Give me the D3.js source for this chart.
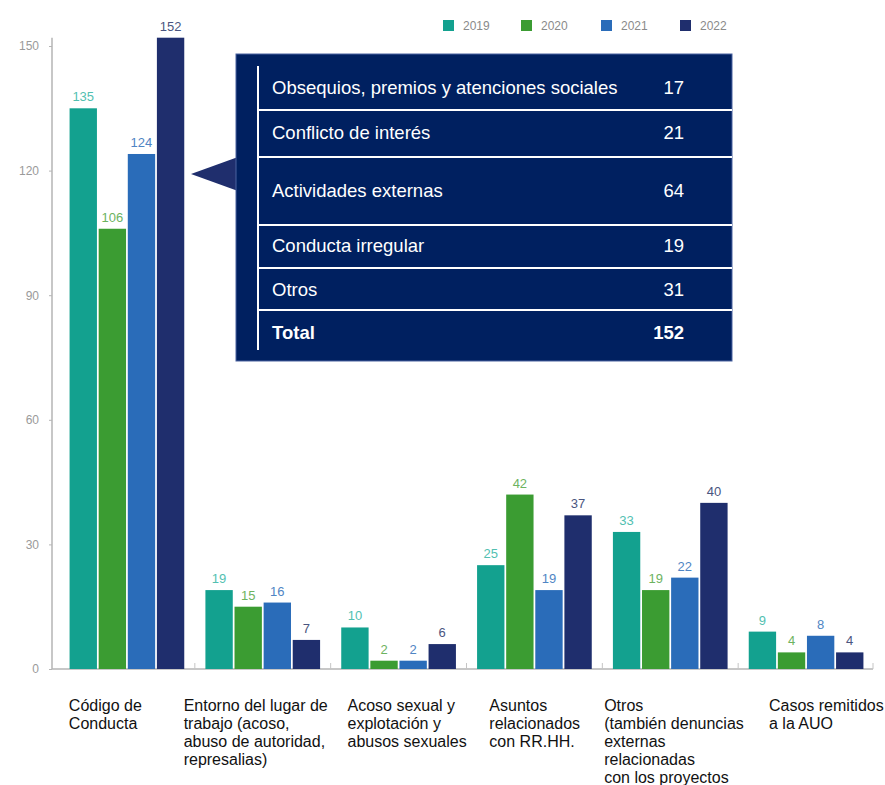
<!DOCTYPE html>
<html>
<head>
<meta charset="utf-8">
<script src="https://cdn.jsdelivr.net/npm/d3@7"></script>
<style>
  body { margin: 0; background: #fff; }
  svg { display: block; font-family: "Liberation Sans", Arial, sans-serif; }
</style>
</head>
<body>
<svg id="chart"></svg>
<script>
const categories = ["codigo", "entorno", "acoso", "asuntos", "otros", "casos"];
const categoryLabels = [
    ["Código de", "Conducta"],
    ["Entorno del lugar de", "trabajo (acoso,", "abuso de autoridad,", "represalias)"],
    ["Acoso sexual y", "explotación y", "abusos sexuales"],
    ["Asuntos", "relacionados", "con RR.HH."],
    ["Otros", "(también denuncias", "externas", "relacionadas", "con los proyectos"],
    ["Casos remitidos", "a la AUO"]
];
const years = ["2019", "2020", "2021", "2022"];
const values2019 = [135, 19, 10, 25, 33, 9];
const values2020 = [106, 15, 2, 42, 19, 4];
const values2021 = [124, 16, 2, 19, 22, 8];
const values2022 = [152, 7, 6, 37, 40, 4];
const yTicks = [0, 30, 60, 90, 120, 150];

const tableRows = ["Obsequios, premios y atenciones sociales", "Conflicto de interés",
    "Actividades externas", "Conducta irregular", "Otros", "Total"];
const tableValues = [17, 21, 64, 19, 31, 152];

const colors = ["#13a18f", "#3b9c32", "#2a6cb9", "#1f2e6d"];
const labelColors = ["#52bfb1", "#6db35f", "#4f85c4", "#4a5580"];

const width = 885, height = 785;
const svg = d3.select("#chart").attr("width", width).attr("height", height);

const series = [values2019, values2020, values2021, values2022];
const data = categories.map((c, i) => ({
    cat: c,
    vals: years.map((y, j) => ({year: y, idx: j, value: series[j][i]}))
}));

const x0 = d3.scaleBand().domain(categories).range([59, 874])
    .paddingInner(0.13).paddingOuter(0.065);
const x1 = d3.scaleBand().domain(years).range([0, x0.bandwidth()]).padding(0.06);
const y = d3.scaleLinear().domain([0, 150]).range([669, 46]);

// y axis
const yAxis = svg.append("g")
    .attr("transform", "translate(52,0)")
    .call(d3.axisLeft(y).tickValues(yTicks).tickSize(3).tickPadding(10));
yAxis.select(".domain").attr("stroke", "#b5b5b5").attr("stroke-width", 1.5)
    .attr("d", `M0,${y(0)}V${y(152)}`);
yAxis.selectAll(".tick line").attr("stroke", "#b5b5b5");
yAxis.selectAll(".tick text").attr("fill", "#9a9a9a").attr("font-size", 12);

// x axis
svg.append("line")
    .attr("x1", 52).attr("x2", 873)
    .attr("y1", y(0)).attr("y2", y(0))
    .attr("stroke", "#b5b5b5").attr("stroke-width", 1.5);
svg.selectAll(".sep")
    .data(categories.slice(1))
    .join("line")
    .attr("x1", d => x0(d) - x0.step() * 0.065)
    .attr("x2", d => x0(d) - x0.step() * 0.065)
    .attr("y1", y(0) - 6).attr("y2", y(0))
    .attr("stroke", "#c5c5c5");
svg.append("line")
    .attr("x1", 873).attr("x2", 873).attr("y1", y(0) - 6).attr("y2", y(0))
    .attr("stroke", "#c5c5c5");

// bars
const groups = svg.selectAll(".grp")
    .data(data)
    .join("g")
    .attr("transform", d => `translate(${x0(d.cat)},0)`);

groups.selectAll("rect")
    .data(d => d.vals)
    .join("rect")
    .attr("x", d => x1(d.year))
    .attr("y", d => y(d.value))
    .attr("width", x1.bandwidth())
    .attr("height", d => y(0) - y(d.value))
    .attr("fill", d => colors[d.idx]);

groups.selectAll("text")
    .data(d => d.vals)
    .join("text")
    .attr("x", d => x1(d.year) + x1.bandwidth() / 2)
    .attr("y", d => y(d.value) - 7)
    .attr("text-anchor", "middle")
    .attr("font-size", 13)
    .attr("fill", d => labelColors[d.idx])
    .text(d => d.value);

// category labels
const catText = svg.selectAll(".cat")
    .data(categories)
    .join("text")
    .attr("x", (d, i) => x0(d) + [1, -20, 7, 11, -10, 21][i] + [0, 0, 1, 3, 3, 1][i])
    .attr("y", 711)
    .attr("font-size", 16)
    .attr("fill", "#111");
catText.selectAll("tspan")
    .data((d, i) => categoryLabels[i])
    .join("tspan")
    .attr("x", function() { return this.parentNode.getAttribute("x"); })
    .attr("dy", (d, i) => i === 0 ? 0 : 18)
    .text(d => d);

// legend
const legend = svg.append("g").attr("transform", "translate(443,26)");
const legendX = [0, 78, 158, 237];
years.forEach((yr, i) => {
    legend.append("rect")
        .attr("x", legendX[i]).attr("y", -6)
        .attr("width", 11).attr("height", 11)
        .attr("fill", colors[i]);
    legend.append("text")
        .attr("x", legendX[i] + 20).attr("y", 4)
        .attr("font-size", 12)
        .attr("fill", "#8a8a8a")
        .text(yr);
});

// pointer + table box
svg.append("path")
    .attr("d", "M191,174L238,157L238,191Z")
    .attr("fill", "#1f2e6d");

const box = svg.append("g");
box.append("rect")
    .attr("x", 236).attr("y", 54)
    .attr("width", 496).attr("height", 307)
    .attr("fill", "#002060")
    .attr("stroke", "#4a62a0").attr("stroke-width", 1);

const rowY = d3.scaleOrdinal().domain(tableRows).range([88, 133, 191, 246, 290, 333]);
const lineY = [110, 157, 225, 268, 310];

box.append("line")
    .attr("x1", 258).attr("x2", 258).attr("y1", 66).attr("y2", 350)
    .attr("stroke", "#fff").attr("stroke-width", 2);
box.selectAll(".hl")
    .data(lineY)
    .join("line")
    .attr("x1", 258).attr("x2", 732)
    .attr("y1", d => d).attr("y2", d => d)
    .attr("stroke", "#fff").attr("stroke-width", 2);

box.selectAll(".rowlabel")
    .data(tableRows)
    .join("text")
    .attr("x", 272)
    .attr("y", d => rowY(d))
    .attr("dy", "0.35em")
    .attr("font-size", 18.5)
    .attr("font-weight", (d, i) => i === tableRows.length - 1 ? "bold" : "normal")
    .attr("fill", "#fff")
    .text(d => d);

box.selectAll(".rowval")
    .data(tableValues)
    .join("text")
    .attr("x", 684)
    .attr("y", (d, i) => rowY(tableRows[i]))
    .attr("dy", "0.35em")
    .attr("text-anchor", "end")
    .attr("font-size", 18.5)
    .attr("font-weight", (d, i) => i === tableValues.length - 1 ? "bold" : "normal")
    .attr("fill", "#fff")
    .text(d => d);
</script>
</body>
</html>
